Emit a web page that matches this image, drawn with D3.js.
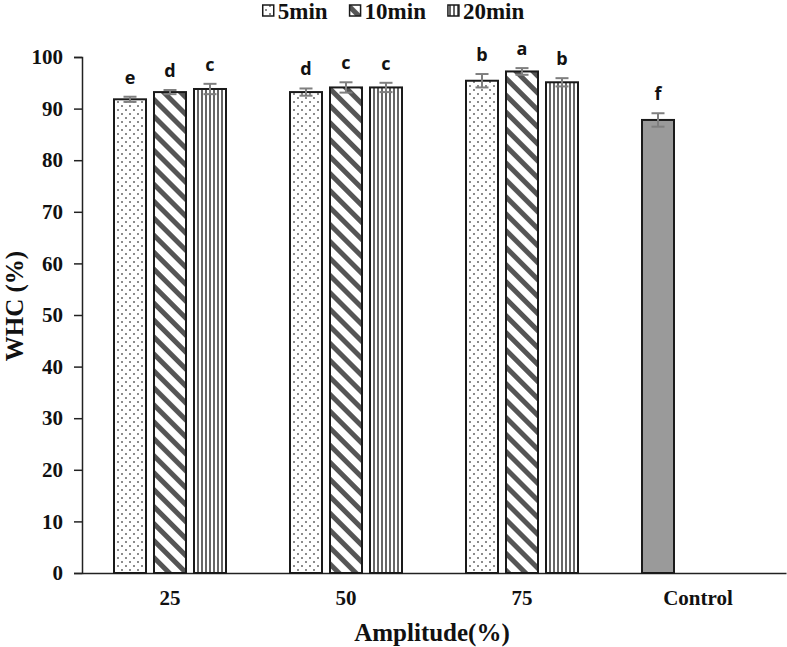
<!DOCTYPE html>
<html>
<head>
<meta charset="utf-8">
<script src="https://cdn.jsdelivr.net/npm/d3@7"></script>
<style>
  body { margin: 0; background: #fff; }
  svg { display: block; }
</style>
</head>
<body>
<div id="chart"></div>
<script>
const categories = ['25', '50', '75', 'Control'];
const seriesNames = ['5min', '10min', '20min'];
const values5 = [91.8, 93.2, 95.4];
const values10 = [93.2, 94.1, 97.2];
const values20 = [93.8, 94.1, 95.1];
const err5 = [0.5, 0.7, 1.3];
const err10 = [0.4, 1.0, 0.65];
const err20 = [1.0, 0.9, 0.8];
const letters5 = ['e', 'd', 'b'];
const letters10 = ['d', 'c', 'a'];
const letters20 = ['c', 'c', 'b'];
const controlValue = 87.8;
const controlErr = 1.3;
const controlLetter = 'f';
const yTicks = [0, 10, 20, 30, 40, 50, 60, 70, 80, 90, 100];

const width = 787, height = 647;
const margin = { top: 57, right: 1, bottom: 72, left: 82 };
const serif = '"Liberation Serif", "Times New Roman", serif';

const svg = d3.select('#chart').append('svg')
  .attr('width', width)
  .attr('height', height);

const defs = svg.append('defs');

// dotted pattern
const pDot = defs.append('pattern').attr('id', 'p-dot')
  .attr('patternUnits', 'userSpaceOnUse').attr('width', 8).attr('height', 8);
pDot.append('rect').attr('width', 8).attr('height', 8).attr('fill', '#fff');
pDot.append('circle').attr('cx', 2).attr('cy', 2).attr('r', 1).attr('fill', '#666');
pDot.append('circle').attr('cx', 6).attr('cy', 6).attr('r', 1).attr('fill', '#666');

// diagonal stripes
const pDiag = defs.append('pattern').attr('id', 'p-diag')
  .attr('patternUnits', 'userSpaceOnUse').attr('width', 12).attr('height', 12)
  .attr('patternTransform', 'rotate(-45)');
pDiag.append('rect').attr('width', 12).attr('height', 12).attr('fill', '#fff');
pDiag.append('rect').attr('x', 0).attr('width', 5).attr('height', 12).attr('fill', '#555');

// vertical stripes
const pVert = defs.append('pattern').attr('id', 'p-vert')
  .attr('patternUnits', 'userSpaceOnUse').attr('width', 4).attr('height', 4);
pVert.append('rect').attr('width', 4).attr('height', 4).attr('fill', '#fff');
pVert.append('rect').attr('x', 1).attr('width', 2).attr('height', 4).attr('fill', '#666');

const fills = ['url(#p-dot)', 'url(#p-diag)', 'url(#p-vert)'];

const x = d3.scaleBand()
  .domain(categories)
  .range([margin.left, width - margin.right]);

const xSub = d3.scaleBand()
  .domain(seriesNames)
  .range([x.bandwidth() / 2 - 56, x.bandwidth() / 2 + 56])
  .paddingInner(0.2);

const y = d3.scaleLinear()
  .domain([0, 100])
  .range([height - margin.bottom - 2, margin.top]);

// y axis
const yAxis = svg.append('g')
  .attr('transform', `translate(${margin.left},0)`)
  .call(d3.axisLeft(y).tickValues(yTicks).tickSize(8).tickPadding(11));
yAxis.select('.domain').attr('stroke', '#222').attr('stroke-width', 1.5);
yAxis.selectAll('.tick line').attr('stroke', '#222').attr('stroke-width', 1.5);
yAxis.selectAll('.tick text')
  .attr('font-family', serif)
  .attr('font-weight', 'bold')
  .attr('font-size', 21)
  .attr('fill', '#111');

// x axis
const xAxis = svg.append('g')
  .attr('transform', `translate(0,${y(0)})`)
  .call(d3.axisBottom(x).tickSize(0).tickPadding(17));
xAxis.select('.domain').attr('stroke', '#222').attr('stroke-width', 1.5);
xAxis.selectAll('.tick text')
  .attr('font-family', serif)
  .attr('font-weight', 'bold')
  .attr('font-size', 21)
  .attr('fill', '#111');

const rows = [];
[values5, values10, values20].forEach((vals, si) => {
  const errs = [err5, err10, err20][si];
  const lets = [letters5, letters10, letters20][si];
  vals.forEach((v, ci) => {
    rows.push({ cat: categories[ci], series: seriesNames[si], value: v, err: errs[ci], letter: lets[ci], fill: fills[si] });
  });
});
rows.push({ cat: 'Control', series: seriesNames[0], value: controlValue, err: controlErr, letter: controlLetter, fill: '#9a9a9a' });

const bars = svg.append('g');
bars.selectAll('rect')
  .data(rows)
  .enter()
  .append('rect')
  .attr('x', d => x(d.cat) + xSub(d.series))
  .attr('y', d => y(d.value))
  .attr('width', xSub.bandwidth())
  .attr('height', d => y(0) - y(d.value))
  .attr('fill', d => d.fill)
  .attr('stroke', '#1a1a1a')
  .attr('stroke-width', 2);

// error bars
const errG = svg.append('g').attr('stroke', '#7f7f7f').attr('stroke-width', 2);
rows.forEach(d => {
  const cx = x(d.cat) + xSub(d.series) + xSub.bandwidth() / 2;
  errG.append('line').attr('x1', cx).attr('x2', cx)
    .attr('y1', y(d.value + d.err)).attr('y2', y(d.value - d.err));
  errG.append('line').attr('x1', cx - 6.5).attr('x2', cx + 6.5)
    .attr('y1', y(d.value + d.err)).attr('y2', y(d.value + d.err));
  errG.append('line').attr('x1', cx - 6.5).attr('x2', cx + 6.5)
    .attr('y1', y(d.value - d.err)).attr('y2', y(d.value - d.err));
});

// significance letters
svg.append('g').selectAll('text')
  .data(rows)
  .enter()
  .append('text')
  .attr('x', d => x(d.cat) + xSub(d.series) + xSub.bandwidth() / 2)
  .attr('y', d => y(d.value + d.err) - 13)
  .attr('text-anchor', 'middle')
  .attr('font-family', '"Open Sans", "DejaVu Sans", sans-serif')
  .attr('font-weight', 'bold')
  .attr('font-size', 18)
  .attr('fill', '#111')
  .text(d => d.letter);

// axis titles
svg.append('text')
  .attr('transform', 'translate(23,306) rotate(-90)')
  .attr('text-anchor', 'middle')
  .attr('font-family', serif)
  .attr('font-weight', 'bold')
  .attr('font-size', 25)
  .attr('fill', '#111')
  .text('WHC (%)');

svg.append('text')
  .attr('x', 432)
  .attr('y', 641)
  .attr('text-anchor', 'middle')
  .attr('font-family', serif)
  .attr('font-weight', 'bold')
  .attr('font-size', 25)
  .attr('fill', '#111')
  .text('Amplitude(%)');

// legend: centred on the whole chart, laid out from measured text widths
const legend = svg.append('g');
const items = seriesNames.map((name, i) => {
  const sq = legend.append('rect')
    .attr('y', 5)
    .attr('width', 11).attr('height', 11)
    .attr('fill', fills[i])
    .attr('stroke', '#1a1a1a').attr('stroke-width', 1.5);
  const t = legend.append('text')
    .attr('y', 19)
    .attr('font-family', serif)
    .attr('font-weight', 'bold')
    .attr('font-size', 23)
    .attr('fill', '#111')
    .text(name);
  return { sq, t, w: t.node().getComputedTextLength() };
});
const itemGap = 22;
const total = d3.sum(items, d => 15 + d.w) + itemGap * (items.length - 1);
let lx = width / 2 - total / 2;
items.forEach(d => {
  d.sq.attr('x', lx);
  d.t.attr('x', lx + 15);
  lx += 15 + d.w + itemGap;
});
</script>
</body>
</html>
